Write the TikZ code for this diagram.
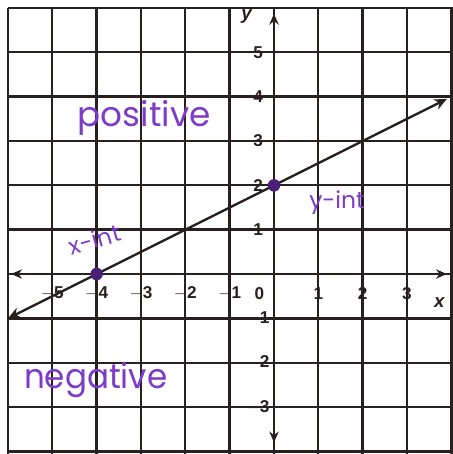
\documentclass[tikz,border=0pt]{standalone}
\usepackage{fontspec}
\setmainfont{Liberation Sans}
\newfontfamily\hand{Poppins}
\usetikzlibrary{arrows.meta}
\definecolor{ink}{RGB}{40,32,30}
\definecolor{pen}{RGB}{125,60,200}
\definecolor{dotc}{RGB}{75,30,120}
\tikzset{
  gridline/.style={draw=ink, line width=1.5pt},
  axisline/.style={draw=ink, line width=1.5pt, -{Stealth[length=7pt,width=6pt]}},
  tick/.style={font=\bfseries\fontsize{11}{11}\selectfont, text=ink, inner sep=0pt},
  axlab/.style={font=\bfseries\itshape\fontsize{12}{12}\selectfont, text=ink, inner sep=0pt},
  hw/.style={font=\hand\fontsize{22}{22}\selectfont, text=pen, inner sep=0pt},
  hws/.style={font=\hand\fontsize{15}{15}\selectfont, text=pen, inner sep=0pt},
  ptdot/.style={circle, fill=dotc, minimum size=8pt, inner sep=0pt},
}
\begin{document}
\begin{tikzpicture}
\useasboundingbox[fill=white] (-6.18,-4.06) rectangle (4.02,6.18);
% grid
\foreach \i in {-6,...,4} \draw[gridline] (\i,-4.1) -- (\i,6);
\foreach \j in {-4,...,6} \draw[gridline] (-6,\j) -- (4.05,\j);
% axes
\coordinate (O) at (0,0);
\coordinate (xr) at (3.9,0);
\coordinate (xl) at (-5.93,0);
\coordinate (yu) at (0,5.87);
\coordinate (yd) at (0,-3.8);
\draw[axisline] (O) -- (xr);
\draw[axisline] (O) -- (xl);
\draw[axisline] (O) -- (yu);
\draw[axisline] (O) -- (yd);
% tick labels
\foreach \v in {-5,-4,-3,-2,-1,1,2,3} \node[tick] (tx\v) at (\v,-0.44) {$\mathbf{\v}$};
\node[tick] (t0) at (-0.33,-0.44) {0};
\foreach \v in {-3,-2,-1,1,2,3,4,5} \node[tick] (ty\v) at (-0.36,\v) {$\mathbf{\v}$};
\node[axlab] (xlab) at (3.73,-0.65) {x};
\node[axlab] (ylab) at (-0.62,5.8) {y};
% line
\coordinate (L1) at (-6,-1);
\coordinate (L2) at (3.9,3.95);
\draw[draw=ink, line width=1.5pt, {Stealth[length=8pt,width=7pt]}-{Stealth[length=8pt,width=7pt]}] (L1) -- (L2);
% points
\node[ptdot] (xint) at (-4,0) {};
\node[ptdot] (yint) at (0,2) {};
% handwriting
\node[hw] (pos) at (-2.93,3.52) {positive};
\node[hw, xscale=0.95] (neg) at (-4.02,-2.39) {negative};
\node[hws, rotate=16] (xl1) at (-4.05,0.78) {x-int};
\node[hws] (yl1) at (1.42,1.6) {y-int};
\end{tikzpicture}
\end{document}
